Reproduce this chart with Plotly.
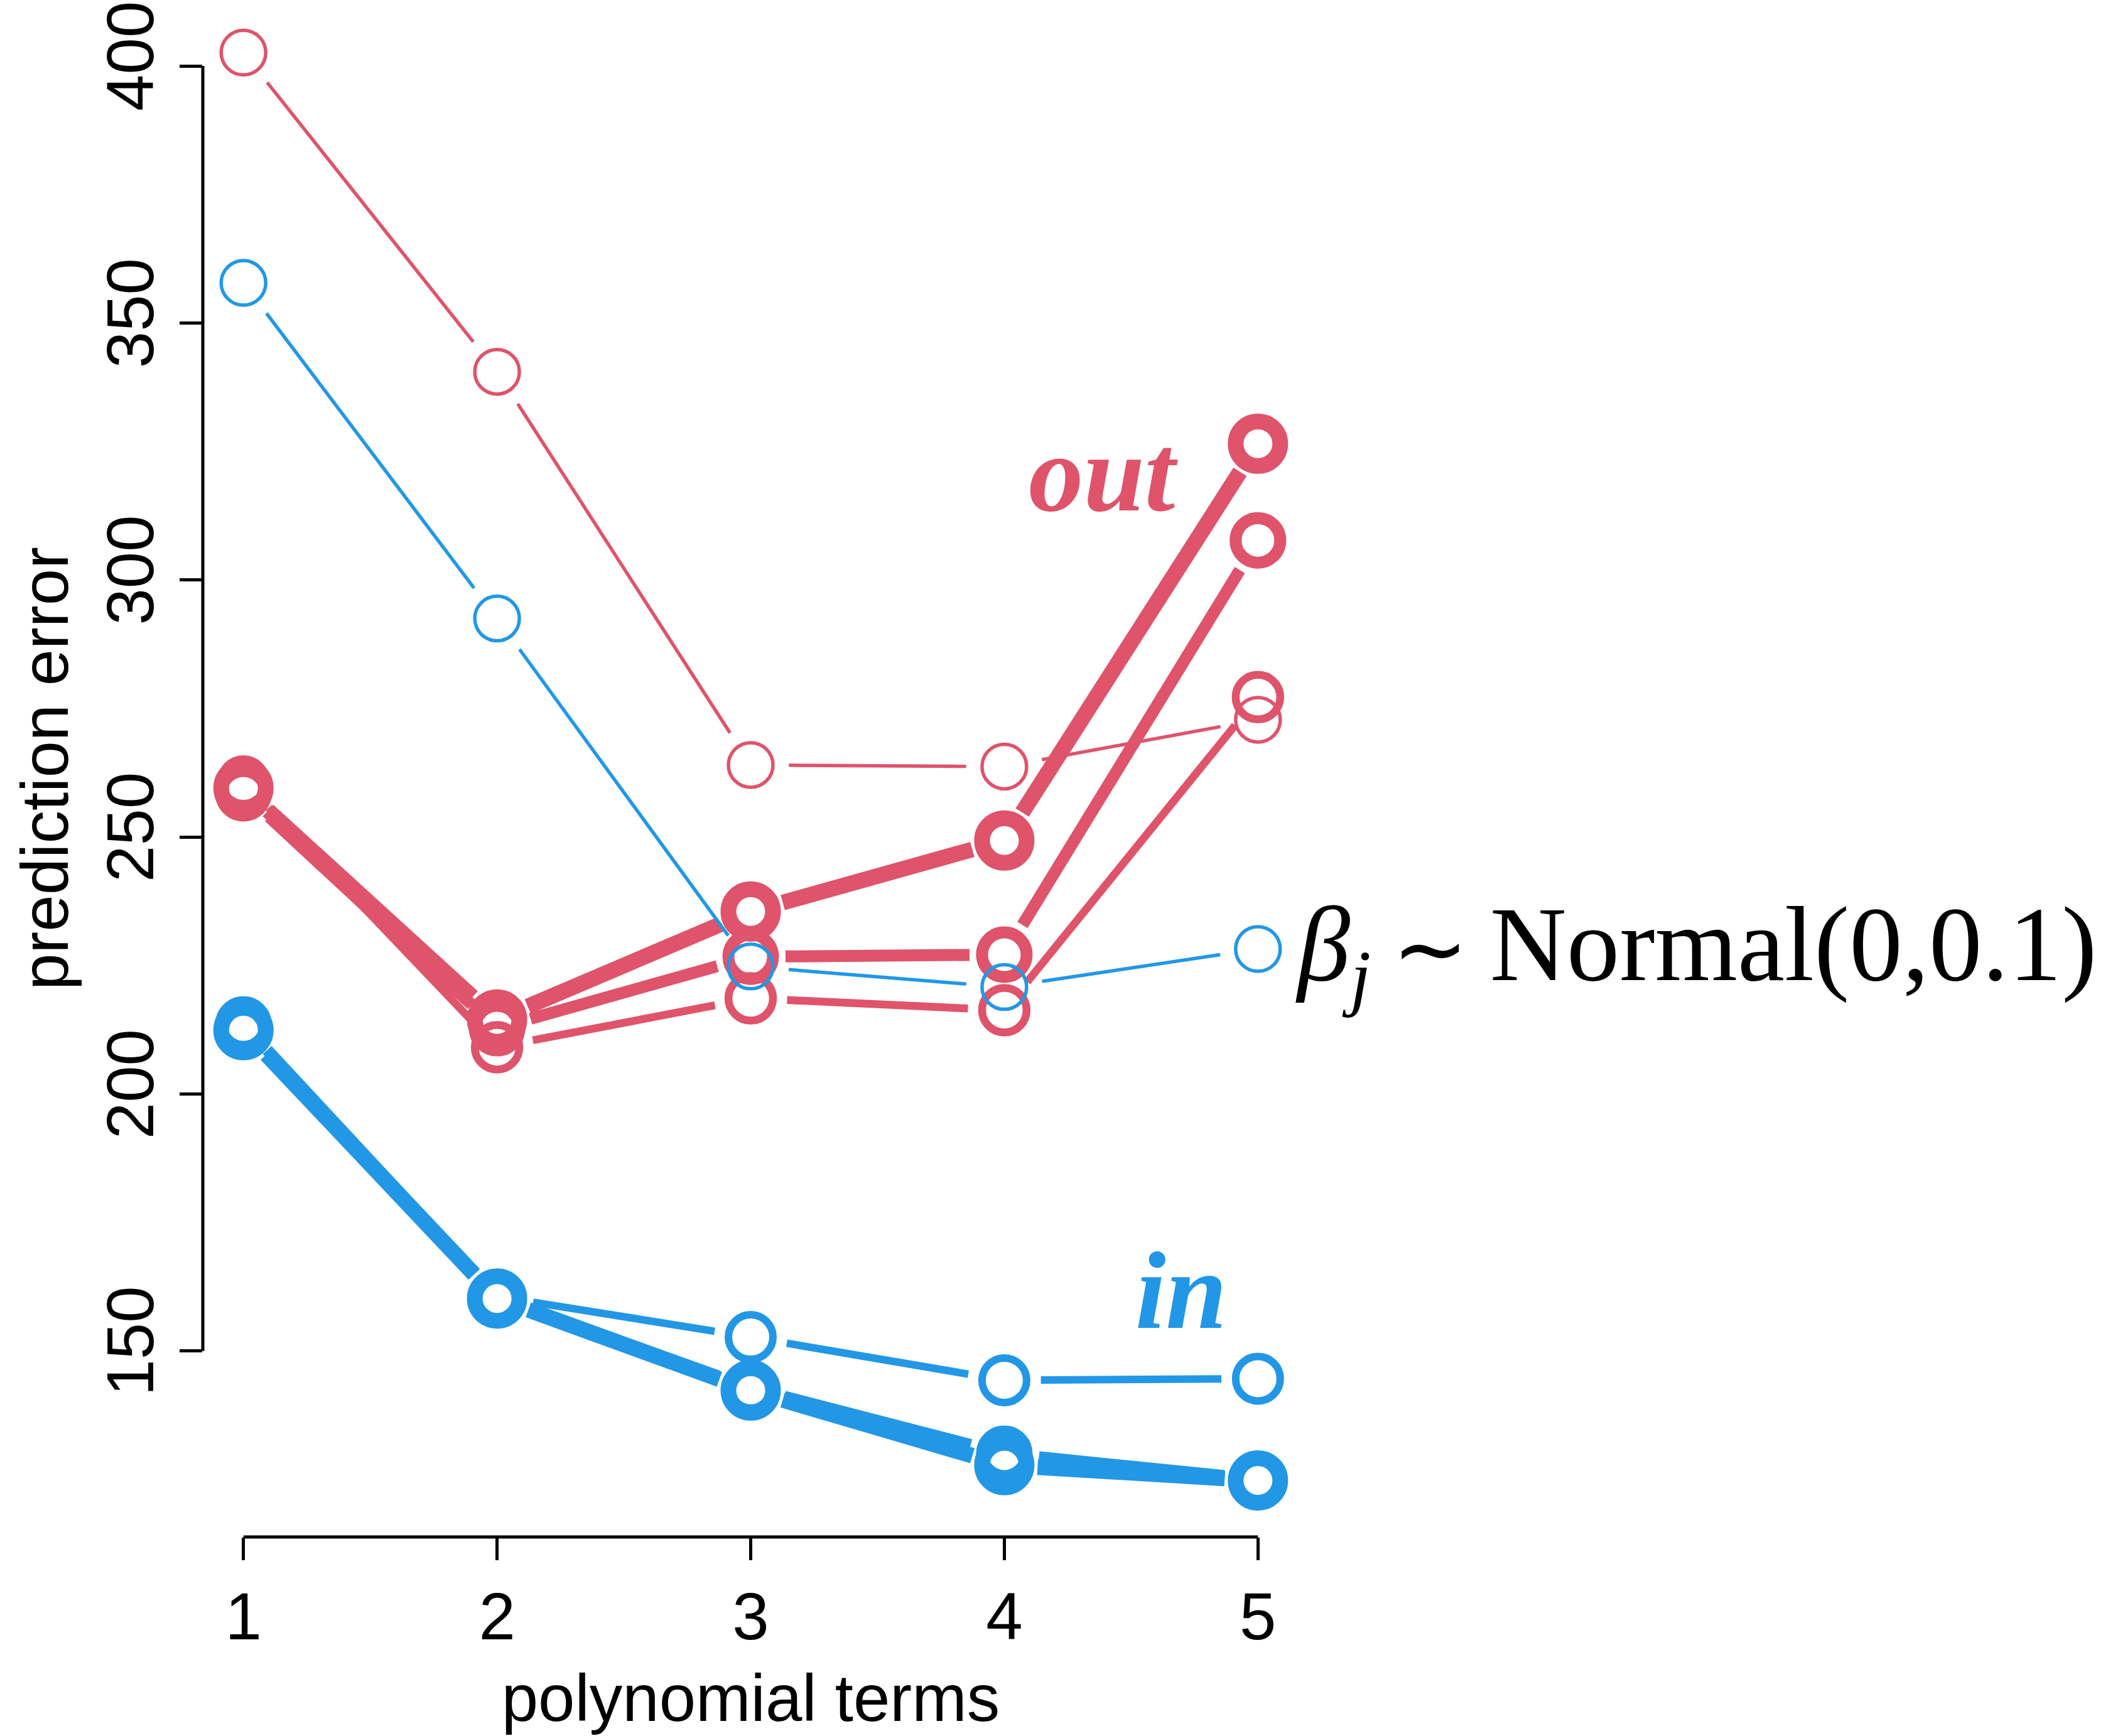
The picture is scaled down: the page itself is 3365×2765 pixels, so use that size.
import math
import plotly.graph_objects as go

# ---------------- data ----------------
x_terms = [1, 2, 3, 4, 5]

# out-of-sample prediction error (red)
out_n01 = [402.6, 340.5, 264.0, 263.7, 272.8]
out_s1 = [259.5, 214.5, 235.5, 249.3, 326.5]
out_s2 = [258.5, 212.8, 226.7, 227.1, 307.7]
out_s3 = [260.8, 209.1, 218.6, 216.3, 277.2]

# in-sample prediction error (blue)
in_n01 = [357.8, 292.5, 224.8, 220.8, 228.2]
in_s1 = [212.4, 160.2, 142.3, 127.8, 124.8]
in_s2 = [213.5, 160.4, 142.8, 130.0, 125.0]
in_s3 = [212.0, 160.6, 152.7, 144.3, 144.6]

y_ticks = [150, 200, 250, 300, 350, 400]
x_ticks = [1, 2, 3, 4, 5]

# ---------------- styling ----------------
RED = "#DF536B"
BLUE = "#2297E6"
W, H = 3365, 2765
ML, MR, MT, MB = 323, 1297, 0, 317
XR = [0.8398, 5.1602]
YR = [113.81, 412.83]
kx = (W - ML - MR) / (XR[1] - XR[0])
ky = (H - MT - MB) / (YR[1] - YR[0])
GAP = 63          # R type="b" gap around points, in px
MSIZE = 71
SANS = "Liberation Sans, Arial, sans-serif"
SERIF = "Liberation Serif, Times New Roman, serif"


def gapped(xs, ys, lw):
    sx, sy = [], []
    cut = GAP - lw * 0.4
    for i in range(len(xs) - 1):
        dx = (xs[i + 1] - xs[i]) * kx
        dy = (ys[i + 1] - ys[i]) * ky
        L = math.hypot(dx, dy)
        if L <= 2 * cut:
            continue
        ux, uy = dx / L, dy / L
        sx += [xs[i] + ux * cut / kx, xs[i + 1] - ux * cut / kx, None]
        sy += [ys[i] + uy * cut / ky, ys[i + 1] - uy * cut / ky, None]
    return sx, sy


fig = go.Figure()

series = [
    (out_s1, RED, 25),
    (out_s2, RED, 19),
    (out_s3, RED, 12.5),
    (out_n01, RED, 5.5),
    (in_s1, BLUE, 25),
    (in_s2, BLUE, 19),
    (in_s3, BLUE, 12),
    (in_n01, BLUE, 5.5),
]

for ys, col, lw in series:
    sx, sy = gapped(x_terms, ys, lw)
    fig.add_trace(go.Scatter(x=sx, y=sy, mode="lines",
                             line=dict(color=col, width=lw),
                             hoverinfo="skip", showlegend=False))
    fig.add_trace(go.Scatter(x=x_terms, y=ys, mode="markers",
                             marker=dict(symbol="circle-open", size=MSIZE, color=col,
                                         line=dict(color=col, width=lw)),
                             hoverinfo="skip", showlegend=False))

# axis lines spanning only first..last tick (R style)
fig.add_shape(type="line", xref="paper", yref="y", x0=0, x1=0,
              y0=y_ticks[0], y1=y_ticks[-1], line=dict(color="black", width=5))
fig.add_shape(type="line", xref="x", yref="paper", x0=x_ticks[0], x1=x_ticks[-1],
              y0=0, y1=0, line=dict(color="black", width=5))

fig.add_annotation(x=4.39, y=320.7, xref="x", yref="y", text="<b><i>out</i></b>",
                   showarrow=False, xanchor="center", yanchor="middle",
                   font=dict(family=SERIF, size=175, color=RED))
fig.add_annotation(x=4.697, y=161.7, xref="x", yref="y", text="<b><i>in</i></b>",
                   showarrow=False, xanchor="center", yanchor="middle",
                   font=dict(family=SERIF, size=175, color=BLUE))
fig.add_annotation(x=5.143, y=227.6, xref="x", yref="y",
                   text="<i>β<sub>j</sub></i>\u2009<span style='font-size:145px'>∼</span>\u2009Normal(0,0.1)",
                   showarrow=False, xanchor="left", yanchor="middle",
                   font=dict(family=SERIF, size=169, color="black"))

fig.update_xaxes(range=XR, tickmode="array", tickvals=x_ticks,
                 ticktext=[str(v) for v in x_ticks],
                 ticks="outside", ticklen=36, tickwidth=5, tickcolor="black",
                 showline=False, showgrid=False, zeroline=False,
                 tickfont=dict(family=SANS, size=105, color="black"),
                 title=dict(text="polynomial terms", standoff=35,
                            font=dict(family=SANS, size=105, color="black")))
fig.update_yaxes(range=YR, tickmode="array", tickvals=y_ticks,
                 ticktext=[str(v) for v in y_ticks], tickangle=-90,
                 ticks="outside", ticklen=36, tickwidth=5, tickcolor="black",
                 showline=False, showgrid=False, zeroline=False,
                 tickfont=dict(family=SANS, size=105, color="black"),
                 title=dict(text="prediction error", standoff=5,
                            font=dict(family=SANS, size=105, color="black")))

fig.update_layout(width=W, height=H, autosize=False,
                  margin=dict(l=ML, r=MR, t=MT, b=MB, pad=0),
                  paper_bgcolor="white", plot_bgcolor="white",
                  showlegend=False)

fig.write_html("out.html")
